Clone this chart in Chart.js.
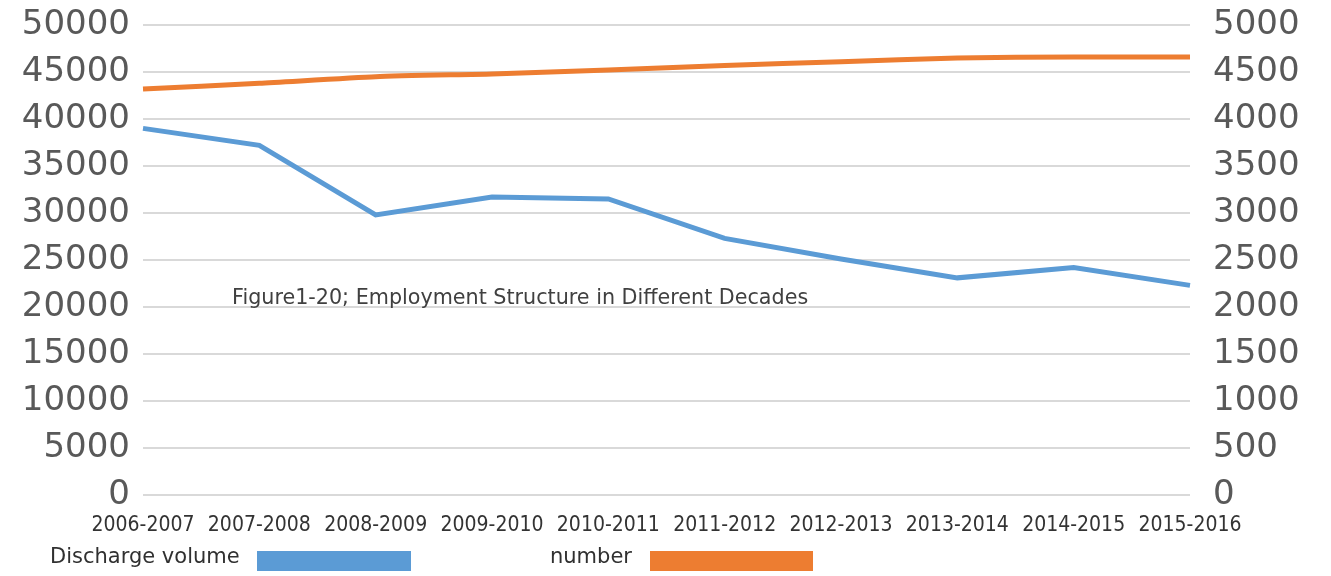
<!DOCTYPE html>
<html>
<head>
<meta charset="utf-8">
<script src="https://cdn.jsdelivr.net/npm/chart.js@4"></script>
<style>
    html, body { margin: 0; padding: 0; background: #fff; }
    #wrap { width: 1331px; height: 576px; }
</style>
</head>
<body>
<div id="wrap"><canvas id="employmentChart"></canvas></div>
<script>
const years = ['2006-2007', '2007-2008', '2008-2009', '2009-2010', '2010-2011',
    '2011-2012', '2012-2013', '2013-2014', '2014-2015', '2015-2016'];
const dischargeVolume = [39000, 37200, 29800, 31700, 31500, 27300, 25100, 23100, 24200, 22300];
const numberValues = [4320, 4380, 4450, 4480, 4520, 4570, 4610, 4650, 4660, 4660];
const leftTicks = [0, 5000, 10000, 15000, 20000, 25000, 30000, 35000, 40000, 45000, 50000];
const rightTicks = [0, 500, 1000, 1500, 2000, 2500, 3000, 3500, 4000, 4500, 5000];
const captionText = 'Figure1-20; Employment Structure in Different Decades';

const BLUE = '#5b9bd5';
const ORANGE = '#ed7d31';
const TICK_FONT = { family: '"DejaVu Sans", sans-serif', size: 34 };

// caption inside the plot and the legend strip along the bottom
const annotations = {
    id: 'annotations',
    afterDraw(chart) {
        const ctx = chart.ctx;
        const area = chart.chartArea;
        const yLeft = chart.scales.y;
        ctx.save();
        ctx.fillStyle = '#404040';
        ctx.textBaseline = 'middle';
        ctx.textAlign = 'left';
        ctx.font = '20.7px "DejaVu Sans", sans-serif';
        ctx.fillText(captionText, area.left + 89, yLeft.getPixelForValue(20900));

        const items = [
            { text: chart.data.datasets[0].label, color: BLUE, tx: 50, bx: 257, bw: 154 },
            { text: chart.data.datasets[1].label, color: ORANGE, tx: 550, bx: 650, bw: 163 }
        ];
        ctx.font = '21px "DejaVu Sans", sans-serif';
        items.forEach(function (it) {
            ctx.fillStyle = '#303030';
            ctx.fillText(it.text, it.tx, 558);
            ctx.fillStyle = it.color;
            ctx.fillRect(it.bx, 551, it.bw, 20);
        });
        ctx.restore();
    }
};

const plainNumber = function (value) { return String(value); };

// fixed axis widths, and no extra room for the big tick labels above the plot
const fitLeft = function (scale) { scale.width = 143; scale.paddingTop = 0; scale.paddingBottom = 0; };
const fitRight = function (scale) { scale.width = 141; scale.paddingTop = 0; scale.paddingBottom = 0; };

const ctx = document.getElementById('employmentChart').getContext('2d');
const employmentChart = new Chart(ctx, {
    type: 'line',
    data: {
        labels: years,
        datasets: [{
            label: 'Discharge volume',
            data: dischargeVolume,
            borderColor: BLUE,
            backgroundColor: BLUE,
            borderWidth: 5,
            pointRadius: 0,
            tension: 0,
            yAxisID: 'y'
        }, {
            label: 'number',
            data: numberValues,
            borderColor: ORANGE,
            backgroundColor: ORANGE,
            borderWidth: 5,
            pointRadius: 0,
            tension: 0.2,
            yAxisID: 'y1'
        }]
    },
    options: {
        responsive: true,
        maintainAspectRatio: false,
        animation: false,
        layout: { padding: { top: 25, bottom: 41, left: 0, right: 0 } },
        plugins: {
            legend: { display: false },
            tooltip: { enabled: false }
        },
        scales: {
            x: {
                offset: false,
                grid: { display: false },
                border: { display: false },
                ticks: {
                    autoSkip: false,
                    maxRotation: 0,
                    minRotation: 0,
                    padding: 10,
                    color: '#333',
                    font: { family: '"DejaVu Sans Condensed", "Liberation Sans Narrow", "DejaVu Sans", sans-serif', size: 21 }
                },
                afterFit(scale) { scale.height = 40; scale.paddingLeft = 0; scale.paddingRight = 0; }
            },
            y: {
                position: 'left',
                min: 0,
                max: 50000,
                afterBuildTicks(scale) { scale.ticks = leftTicks.map(v => ({ value: v })); },
                grid: { color: '#d9d9d9', lineWidth: 2, drawTicks: false },
                border: { display: false },
                ticks: { padding: 13, color: '#595959', font: TICK_FONT, callback: plainNumber },
                afterFit: fitLeft
            },
            y1: {
                position: 'right',
                min: 0,
                max: 5000,
                afterBuildTicks(scale) { scale.ticks = rightTicks.map(v => ({ value: v })); },
                grid: { display: false, drawTicks: false },
                border: { display: false },
                ticks: { padding: 23, color: '#595959', font: TICK_FONT, callback: plainNumber },
                afterFit: fitRight
            }
        }
    },
    plugins: [annotations]
});
</script>
</body>
</html>
